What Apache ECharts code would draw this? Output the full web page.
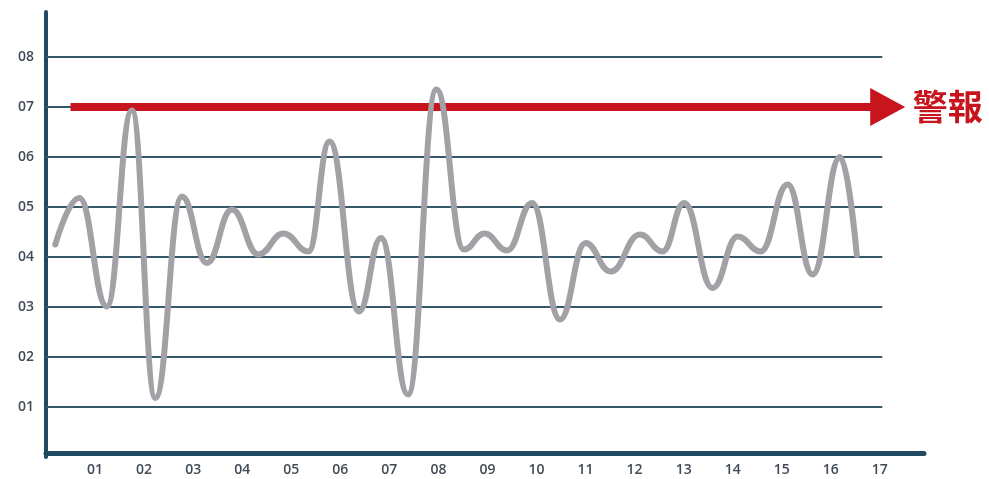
<!DOCTYPE html>
<html>
<head>
<meta charset="utf-8">
<script src="https://cdn.jsdelivr.net/npm/echarts@6/dist/echarts.min.js"></script>
<style>
  html, body { margin: 0; padding: 0; background: #ffffff; }
  #chart { width: 989px; height: 479px; }
</style>
</head>
<body>
<div id="chart"></div>
<script>
// Tick labels for both axes
const xTickLabels = ['01','02','03','04','05','06','07','08','09','10','11','12','13','14','15','16','17'];
const yTickLabels = ['01','02','03','04','05','06','07','08'];

// Signal trace: turning points of the wave
const pointX = [0.19,0.68,1.24,1.75,2.23,2.77,3.28,3.79,4.33,4.84,5.35,5.78,6.38,6.83,7.38,7.96,8.52,8.94,9.40,9.91,10.48,11.00,11.51,12.11,12.57,13.01,13.59,14.10,14.57,15.12,15.63,16.19,16.53];
const pointY = [4.25,5.18,3.01,6.93,1.18,5.21,3.88,4.95,4.05,4.47,4.11,6.31,2.91,4.38,1.25,7.35,4.15,4.47,4.13,5.08,2.75,4.28,3.71,4.45,4.11,5.08,3.38,4.41,4.11,5.45,3.65,6.00,4.04];

// Alarm threshold
const alarmLevel = 7;
const alarmLabel = '警報';

const gridLevels = [1,2,3,4,5,6,7,8];
const gridStart = 0, gridEnd = 17.05;
const alarmStart = 0.5, alarmEnd = 17.16;

const axisColor = '#1f4a5f';
const gridColor = '#35596b';
const labelColor = '#414b55';
const alarmColor = '#c8141c';

const chart = echarts.init(document.getElementById('chart'), null, { renderer: 'canvas' });

const tickLabelStyle = {
  color: labelColor,
  fontFamily: 'Open Sans',
  fontWeight: 600,
  fontSize: 14
};

chart.setOption({
  animation: false,
  backgroundColor: '#ffffff',
  grid: { left: 46, right: 65, top: 12, bottom: 22 },
  xAxis: {
    type: 'value',
    min: 0,
    max: 17.9,
    interval: 1,
    offset: -4,
    axisLine: { show: true, lineStyle: { color: axisColor, width: 5 } },
    axisTick: { show: false },
    splitLine: { show: false },
    axisLabel: Object.assign({
      margin: 10,
      formatter: v => xTickLabels[Math.round(v) - 1] || ''
    }, tickLabelStyle)
  },
  yAxis: {
    type: 'value',
    min: 0,
    max: 8.9,
    interval: 1,
    offset: 3,
    axisLine: { show: true, lineStyle: { color: axisColor, width: 4 } },
    axisTick: { show: false },
    splitLine: { show: false },
    axisLabel: Object.assign({
      margin: 9,
      formatter: v => yTickLabels[Math.round(v) - 1] || ''
    }, tickLabelStyle)
  },
  series: [
    {
      name: 'gridlines',
      type: 'line',
      data: [],
      silent: true,
      markLine: {
        silent: true,
        symbol: ['none', 'none'],
        label: { show: false },
        emphasis: { disabled: true },
        lineStyle: { color: gridColor, width: 1.8, type: 'solid' },
        data: gridLevels.map(v => [{ coord: [gridStart, v] }, { coord: [gridEnd, v] }])
      }
    },
    {
      name: 'alarm',
      type: 'line',
      data: [],
      silent: true,
      markLine: {
        silent: true,
        symbol: ['none', 'triangle'],
        symbolSize: [38, 35],
        emphasis: { disabled: true },
        lineStyle: { color: alarmColor, width: 8, type: 'solid', opacity: 1 },
        label: {
          show: true,
          position: 'end',
          distance: 25,
          formatter: alarmLabel,
          color: alarmColor,
          fontFamily: 'Noto Sans CJK TC',
          fontWeight: 'bold',
          fontSize: 35
        },
        data: [[{ coord: [alarmStart, alarmLevel] }, { coord: [alarmEnd, alarmLevel] }]]
      }
    },
    {
      name: 'signal',
      type: 'line',
      z: 10,
      smooth: 0.45,
      smoothMonotone: 'x',
      showSymbol: false,
      symbol: 'none',
      lineStyle: { color: '#a2a2a6', width: 6, cap: 'round', join: 'round' },
      data: pointX.map((x, i) => [x, pointY[i]])
    }
  ]
});
</script>
</body>
</html>
